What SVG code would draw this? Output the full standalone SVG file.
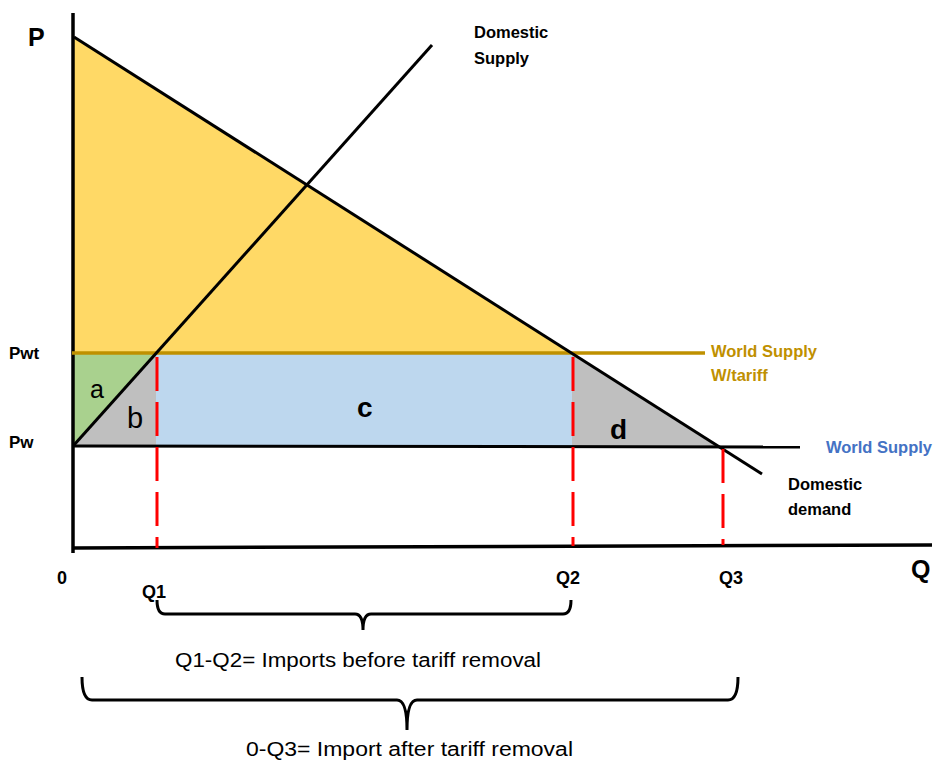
<svg xmlns="http://www.w3.org/2000/svg" width="936" height="760" viewBox="0 0 936 760">
<style>
.b{font-family:"Liberation Sans",Arial,sans-serif;font-weight:bold;fill:#000}
.r{font-family:"Liberation Sans",Arial,sans-serif;fill:#000}
.ax{stroke:#000;stroke-width:3.5;fill:none}
.ln{stroke:#000;stroke-width:3;fill:none}
.dash{stroke:#FF0000;stroke-width:3;stroke-dasharray:34 11;fill:none}
.brace{stroke:#000;stroke-width:3;fill:none}
</style>
<rect width="936" height="760" fill="#fff"/>
<g id="areas">
<polygon points="74,37 74,353 572,353" fill="#FFD966"/>
<polygon points="74,353 156,353 74,446" fill="#A9D18E"/>
<polygon points="74,446 156,353 156,446" fill="#BFBFBF"/>
<rect x="156" y="353" width="416" height="93" fill="#BDD7EE"/>
<polygon points="572,353 572,446 720,446" fill="#BFBFBF"/>
</g>
<g id="connectors">
<line class="ax" x1="73" y1="13" x2="73" y2="553"/>
<line class="ax" x1="72" y1="548" x2="932" y2="545"/>
<line x1="72" y1="353" x2="705" y2="353" stroke="#BF9000" stroke-width="3.5"/>
<line class="ln" x1="72" y1="446" x2="800" y2="447"/>
<line class="ln" x1="74" y1="37" x2="762" y2="474"/>
<line class="ln" x1="74" y1="445" x2="432" y2="45"/>
<line class="dash" x1="157" y1="357" x2="157" y2="548"/>
<line class="dash" x1="573" y1="357" x2="573" y2="546"/>
<line class="dash" x1="723" y1="449" x2="723" y2="545"/>
<path class="brace" d="M157,600 Q157,614 165,614 L355,614 Q363,614 363,630 Q363,614 371,614 L563,614 Q571,614 571,600"/>
<path class="brace" d="M82,677 Q82,700 92,700 L397,700 Q407,700 407,730 Q407,700 417,700 L728,700 Q738,700 738,677"/>
</g>
<g id="axis-labels">
<text class="b" x="28" y="46" font-size="25">P</text>
<text class="b" x="911" y="578" font-size="25">Q</text>
<text class="b" x="57" y="584" font-size="18">0</text>
<text class="b" x="142" y="598" font-size="18">Q1</text>
<text class="b" x="556" y="584" font-size="18">Q2</text>
<text class="b" x="719" y="584" font-size="18">Q3</text>
<text class="b" x="9" y="359" font-size="17">Pwt</text>
<text class="b" x="9" y="448" font-size="17">Pw</text>
</g>
<g id="area-labels">
<text class="r" x="90" y="398" font-size="25">a</text>
<text class="r" x="127" y="428" font-size="29">b</text>
<text class="b" x="357" y="417" font-size="28">c</text>
<text class="b" x="610" y="439" font-size="28">d</text>
</g>
<g id="domestic-supply">
<text class="b" x="474" y="38" font-size="16.5">Domestic </text>
<text class="b" x="474" y="64" font-size="16.5">Supply</text>
</g>
<g id="world-supply-tariff">
<text class="b" x="711" y="357" font-size="16.5" style="fill:#BF9000">World Supply</text>
<text class="b" x="711" y="381" font-size="16.5" style="fill:#BF9000">W/tariff</text>
</g>
<g id="world-supply">
<text class="b" x="826" y="453" font-size="16.5" style="fill:#4472C4">World Supply</text>
</g>
<g id="domestic-demand">
<text class="b" x="788" y="490" font-size="16.5">Domestic </text>
<text class="b" x="788" y="515" font-size="16.5">demand</text>
</g>
<g id="imports-before">
<text class="r" x="175" y="667" font-size="20" textLength="366" lengthAdjust="spacingAndGlyphs">Q1-Q2= Imports before tariff removal</text>
</g>
<g id="imports-after">
<text class="r" x="246" y="756" font-size="20" textLength="327" lengthAdjust="spacingAndGlyphs">0-Q3= Import after tariff removal</text>
</g>
</svg>
